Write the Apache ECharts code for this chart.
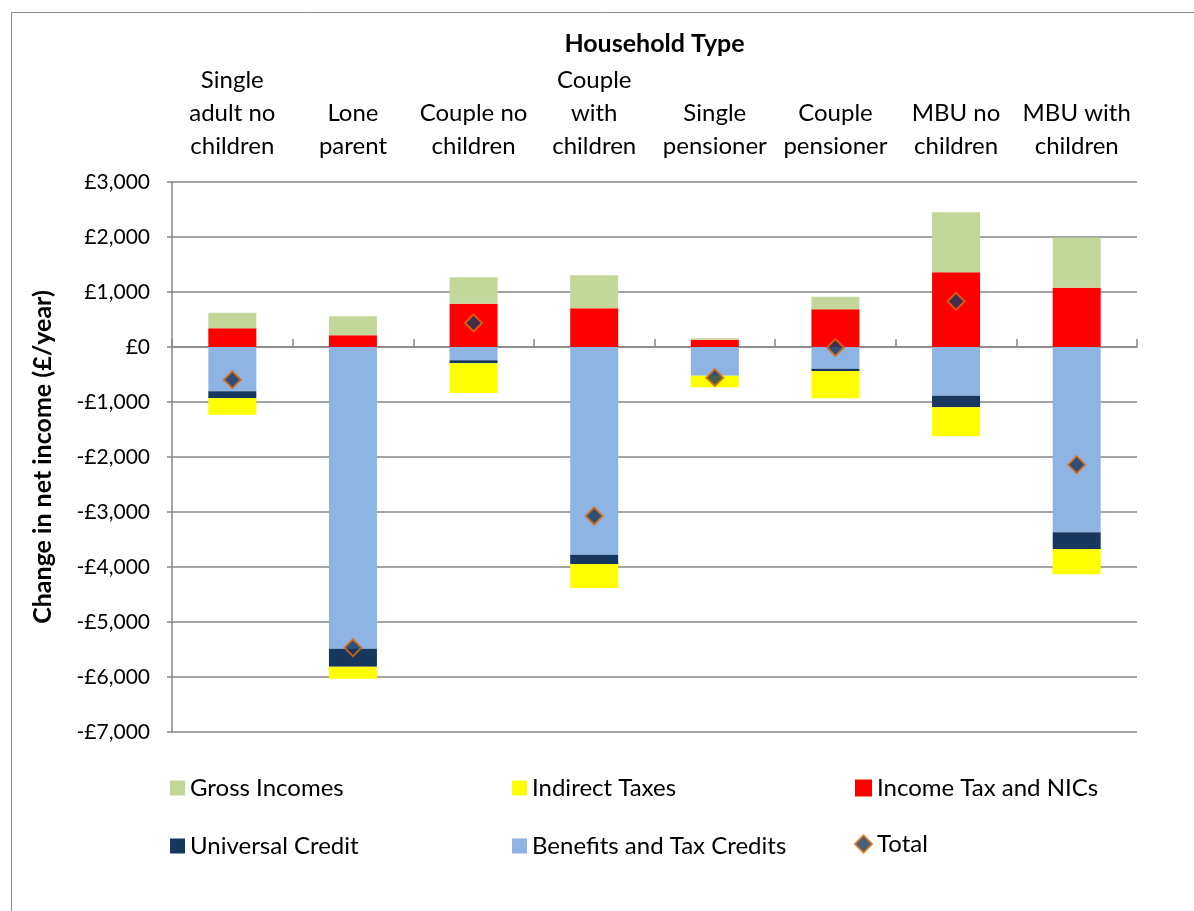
<!DOCTYPE html>
<html>
<head>
<meta charset="utf-8">
<script src="https://cdn.jsdelivr.net/npm/echarts@6/dist/echarts.min.js"></script>
<style>html,body{margin:0;padding:0;background:#fff;}#c{width:1194px;height:911px;}</style>
</head>
<body>
<div id="c"></div>
<script>
const categories = ['Single\nadult no\nchildren', 'Lone\nparent', 'Couple no\nchildren', 'Couple\nwith\nchildren', 'Single\npensioner', 'Couple\npensioner', 'MBU no\nchildren', 'MBU with\nchildren'];
const incomeTaxNICs = [340, 212, 788, 703, 133, 685, 1358, 1079];
const grossIncomes = [285, 346, 479, 600, 25, 230, 1090, 909];
const benefitsTaxCredits = [-806, -5485, -242, -3776, -521, -394, -885, -3370];
const universalCredit = [-127, -327, -55, -169, 0, -42, -212, -303];
const indirectTaxes = [-297, -218, -539, -437, -212, -497, -527, -460];
const total = [-594, -5467, 436, -3073, -558, -10, 830, -2139];
const yTicks = { min: -7000, max: 3000, interval: 1000 };

const FONT = 'Lato';
const chart = echarts.init(document.getElementById('c'), null, { renderer: 'canvas' });
function fmt(v) {
  const s = Math.abs(v).toLocaleString('en-GB');
  return (v < 0 ? '-£' : '£') + s;
}
const barCommon = { type: 'bar', stack: 'all', barWidth: 48 };
const legendText = { fontFamily: FONT, fontSize: 24, color: '#000' };
const legendBase = { orient: 'vertical', itemWidth: 15, itemHeight: 15, itemGap: 34, top: 771, textStyle: legendText, icon: 'rect' };
chart.setOption({
  backgroundColor: '#fff',
  textStyle: { fontFamily: FONT },
  animation: false,
  graphic: [{ type: 'rect', left: 9, top: 10, shape: { width: 1200, height: 920 }, style: { fill: 'none', stroke: '#868686', lineWidth: 1 } }],
  grid: { left: 172, right: 57, top: 182, bottom: 179 },
  legend: [
    Object.assign({}, legendBase, { left: 165, data: ['Gross Incomes', 'Universal Credit'] }),
    Object.assign({}, legendBase, { left: 507, data: ['Indirect Taxes', 'Benefits and Tax Credits'] }),
    Object.assign({}, legendBase, { left: 849, data: ['Income Tax and NICs', { name: 'Total', icon: 'diamond', itemStyle: { borderWidth: 2 } }], itemWidth: 17, itemHeight: 17, itemGap: 32 })
  ],
  xAxis: {
    type: 'category', position: 'top', data: categories,
    name: 'Household Type', nameLocation: 'middle', nameGap: 126,
    nameTextStyle: { fontFamily: FONT, fontSize: 25, fontWeight: 'bold', color: '#000' },
    axisLine: { lineStyle: { color: '#868686', width: 1.5 } },
    axisTick: { show: true, alignWithLabel: false, length: 8, lineStyle: { color: '#868686', width: 1.5 } },
    axisLabel: { interval: 0, fontFamily: FONT, fontSize: 24, color: '#000', lineHeight: 33, margin: 19 },
    splitLine: { show: false }
  },
  yAxis: {
    type: 'value', min: yTicks.min, max: yTicks.max, interval: yTicks.interval,
    name: 'Change in net income (£/year)', nameLocation: 'middle', nameGap: 117, nameRotate: 90,
    nameTextStyle: { fontFamily: FONT, fontSize: 25, fontWeight: 'bold', color: '#000' },
    axisLine: { show: true, lineStyle: { color: '#868686', width: 1.5 } },
    axisTick: { show: true, length: 5, lineStyle: { color: '#868686', width: 1.5 } },
    axisLabel: { fontFamily: FONT, fontSize: 21, color: '#000', margin: 22, formatter: fmt },
    splitLine: { lineStyle: { color: '#868686', width: 1.5 } }
  },
  series: [
    Object.assign({}, barCommon, { name: 'Income Tax and NICs', data: incomeTaxNICs, itemStyle: { color: '#FF0000' } }),
    Object.assign({}, barCommon, { name: 'Gross Incomes', data: grossIncomes, itemStyle: { color: '#C4D79B' } }),
    Object.assign({}, barCommon, { name: 'Benefits and Tax Credits', data: benefitsTaxCredits, itemStyle: { color: '#8DB4E2' } }),
    Object.assign({}, barCommon, { name: 'Universal Credit', data: universalCredit, itemStyle: { color: '#17375E' } }),
    Object.assign({}, barCommon, { name: 'Indirect Taxes', data: indirectTaxes, itemStyle: { color: '#FFFF00' } }),
    { name: 'Total', type: 'scatter', data: total, symbol: 'diamond', symbolSize: 17, z: 10,
      itemStyle: { color: '#17375E', borderColor: '#E46C0A', borderWidth: 2 } }
  ]
});
</script>
</body>
</html>
